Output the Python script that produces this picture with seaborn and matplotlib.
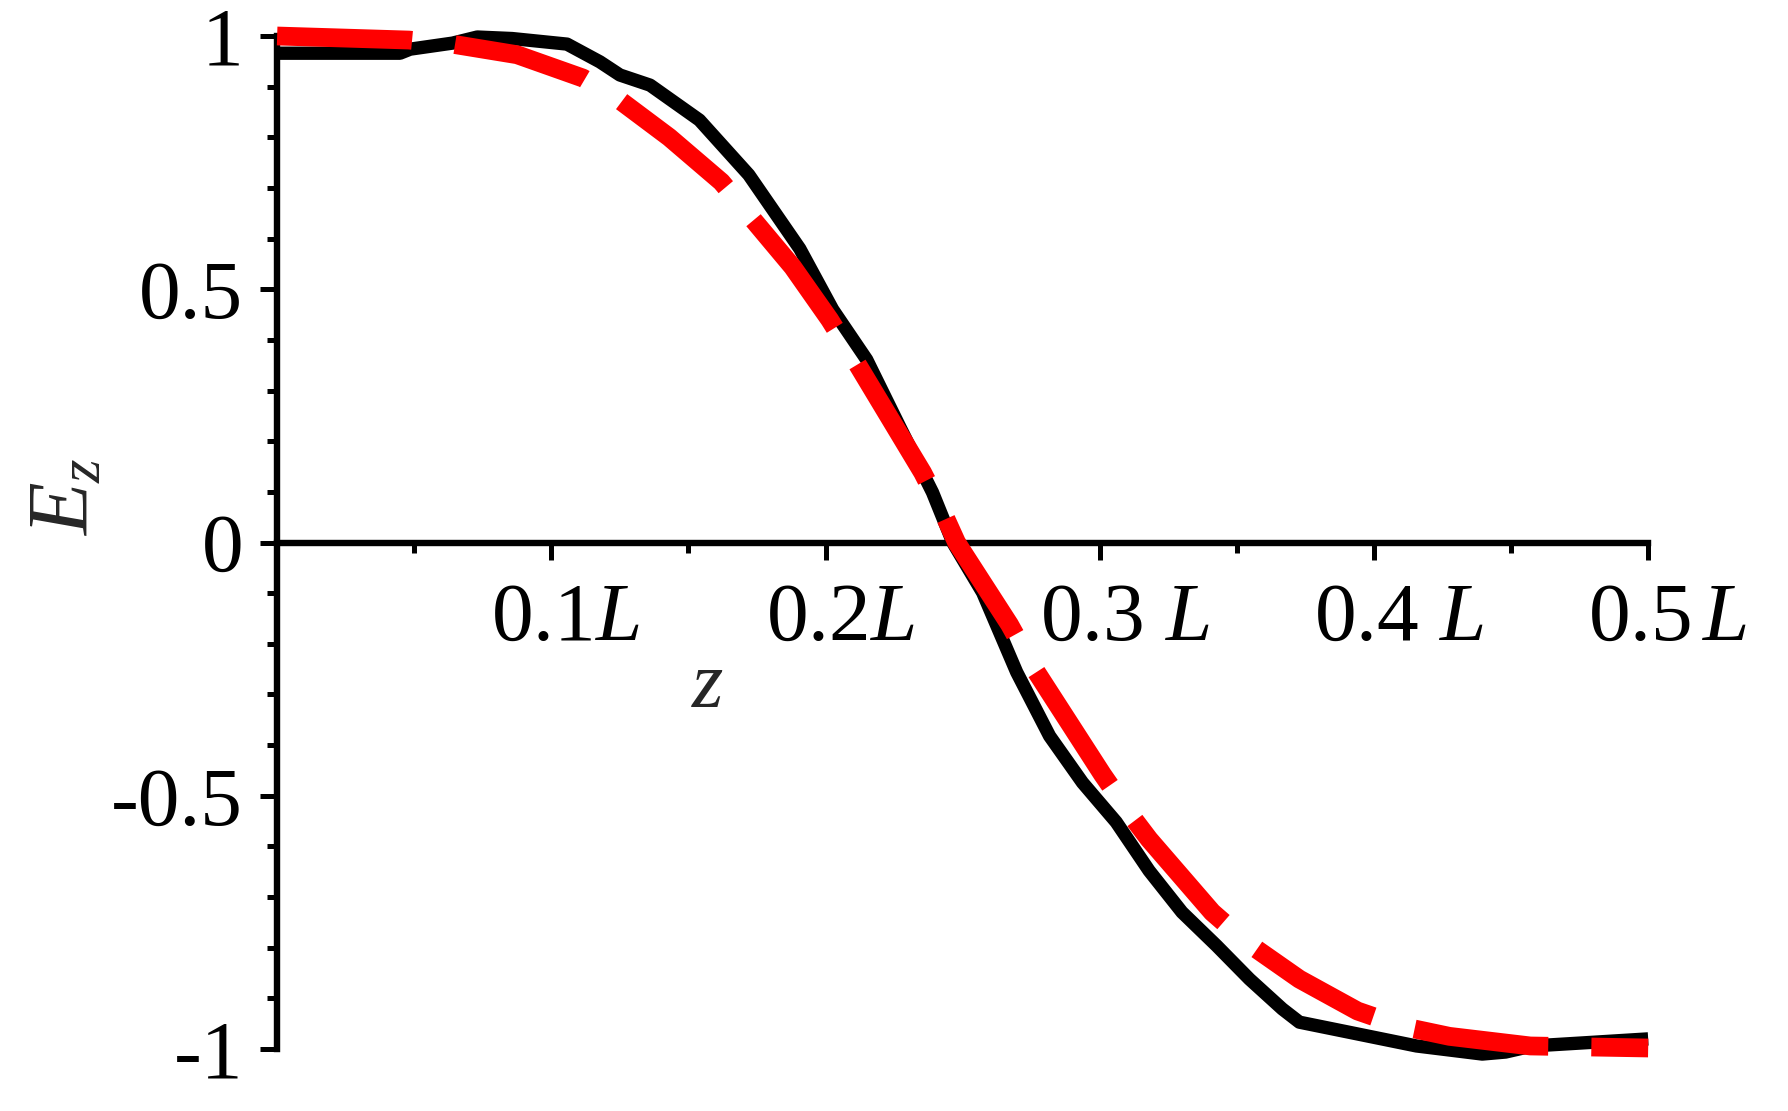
import numpy as np
import pandas as pd
import matplotlib
matplotlib.use("Agg")
import matplotlib.pyplot as plt
import matplotlib.transforms as mtransforms
import seaborn as sns

# black curve: computed E_z along z (in units of L)
z_black = [0.0, 0.0448, 0.0485, 0.064, 0.073, 0.0857, 0.1057, 0.1177, 0.125, 0.136,
           0.154, 0.172, 0.1906, 0.2026, 0.215, 0.227, 0.239, 0.2464, 0.2573, 0.2697,
           0.2817, 0.2937, 0.306, 0.318, 0.330, 0.3426, 0.3546, 0.3666, 0.3728, 0.391,
           0.4155, 0.4395, 0.448, 0.4577, 0.476, 0.5]
ez_black = [0.966, 0.966, 0.974, 0.986, 0.998, 0.995, 0.984, 0.949, 0.923, 0.903,
            0.834, 0.726, 0.58, 0.46, 0.361, 0.229, 0.099, 0.0, -0.099, -0.256,
            -0.382, -0.474, -0.552, -0.648, -0.730, -0.796, -0.862, -0.921, -0.947, -0.967,
            -0.994, -1.010, -1.006, -0.994, -0.988, -0.98]

# red dashed curve: reference field
z_red = [0.0, 0.048, 0.0638, 0.0875, 0.1115, 0.124, 0.143, 0.162, 0.173, 0.188,
         0.2015, 0.2106, 0.2354, 0.2427, 0.2478, 0.2671, 0.2755, 0.301, 0.311, 0.318,
         0.341, 0.3535, 0.3728, 0.394, 0.410, 0.4275, 0.457, 0.5]
ez_red = [1.0, 0.992, 0.984, 0.963, 0.917, 0.877, 0.80, 0.712, 0.641, 0.544,
          0.44, 0.361, 0.138, 0.061, 0.0, -0.162, -0.244, -0.458, -0.536, -0.586,
          -0.73, -0.789, -0.862, -0.925, -0.955, -0.975, -0.994, -0.998]

x_ticks = [0.1, 0.2, 0.3, 0.4, 0.5]
x_tick_labels = ["0.1$L$", "0.2$L$", "0.3 $L$", "0.4 $L$", "0.5$\\,L$"]
y_ticks = [-1, -0.5, 0, 0.5, 1]
y_tick_labels = ["-1", "-0.5", "0", "0.5", "1"]

sns.set_style("ticks")
plt.rcParams['font.family'] = ['Liberation Serif', 'DejaVu Serif']
plt.rcParams['mathtext.fontset'] = 'custom'
plt.rcParams['mathtext.rm'] = 'Liberation Serif'
plt.rcParams['mathtext.it'] = 'Liberation Serif:italic'

df_black = pd.DataFrame({'z': z_black, 'Ez': ez_black})
df_red = pd.DataFrame({'z': z_red, 'Ez': ez_red})

fig = plt.figure(figsize=(17.88, 11.11), dpi=100)
ax = fig.add_axes([0.155, 0.0558, 0.7668, 0.9118])

sns.lineplot(data=df_black, x='z', y='Ez', ax=ax, color='black',
             sort=False, estimator=None)
sns.lineplot(data=df_red, x='z', y='Ez', ax=ax, color='#ff0000',
             sort=False, estimator=None)

black_line, red_line = ax.lines[0], ax.lines[1]
black_line.set_linewidth(9.6)
black_line.set_solid_capstyle('butt')
black_line.set_solid_joinstyle('round')
black_line.set_zorder(3)
red_line.set_linewidth(13.5)
red_line.set_linestyle((0, (7.2, 2.3)))
red_line.set_dash_capstyle('butt')
red_line.set_zorder(4)
for ln in (black_line, red_line):
    ln.set_clip_on(False)

ax.set_xlim(0, 0.5)
ax.set_ylim(-1, 1)

# axis lines through the origin
ax.spines['top'].set_visible(False)
ax.spines['right'].set_visible(False)
ax.spines['bottom'].set_position(('data', 0))
ax.spines['left'].set_bounds(-1, 1)
ax.spines['bottom'].set_bounds(0, 0.5)
for s in ['left', 'bottom']:
    ax.spines[s].set_linewidth(4.6)
    ax.spines[s].set_color('black')

ax.set_xticks(x_ticks)
ax.set_xticklabels(x_tick_labels)
ax.set_xticks(np.arange(0.05, 0.5, 0.1), minor=True)
ax.set_yticks(y_ticks)
ax.set_yticklabels(y_tick_labels)
ax.set_yticks([v for v in np.round(np.arange(-0.9, 1.0, 0.1), 2) if abs(v * 2 - round(v * 2)) > 1e-6],
              minor=True)

ax.tick_params(axis='both', which='both', bottom=True, left=True, top=False, right=False)
ax.tick_params(axis='both', which='major', direction='out', length=12.5, width=3.6,
               color='black', labelsize=60, labelcolor='black')
ax.tick_params(axis='both', which='minor', direction='out', length=7.5, width=3.6,
               color='black')
ax.tick_params(axis='x', which='major', pad=16)
ax.tick_params(axis='y', which='major', pad=12)

shift = mtransforms.ScaledTranslation(-0.6, 0, fig.dpi_scale_trans)
for lab in ax.get_xticklabels():
    lab.set_horizontalalignment('left')
    lab.set_transform(lab.get_transform() + shift)

ax.set_xlabel('$z$', fontsize=58)
ax.xaxis.set_label_coords(0.314, 0.393)
ax.set_ylabel('$E_z$', fontsize=62)
ax.yaxis.set_label_coords(-0.124, 0.545)

ax.set_facecolor('white')
fig.patch.set_facecolor('white')
fig.savefig('out.png', dpi=100)
